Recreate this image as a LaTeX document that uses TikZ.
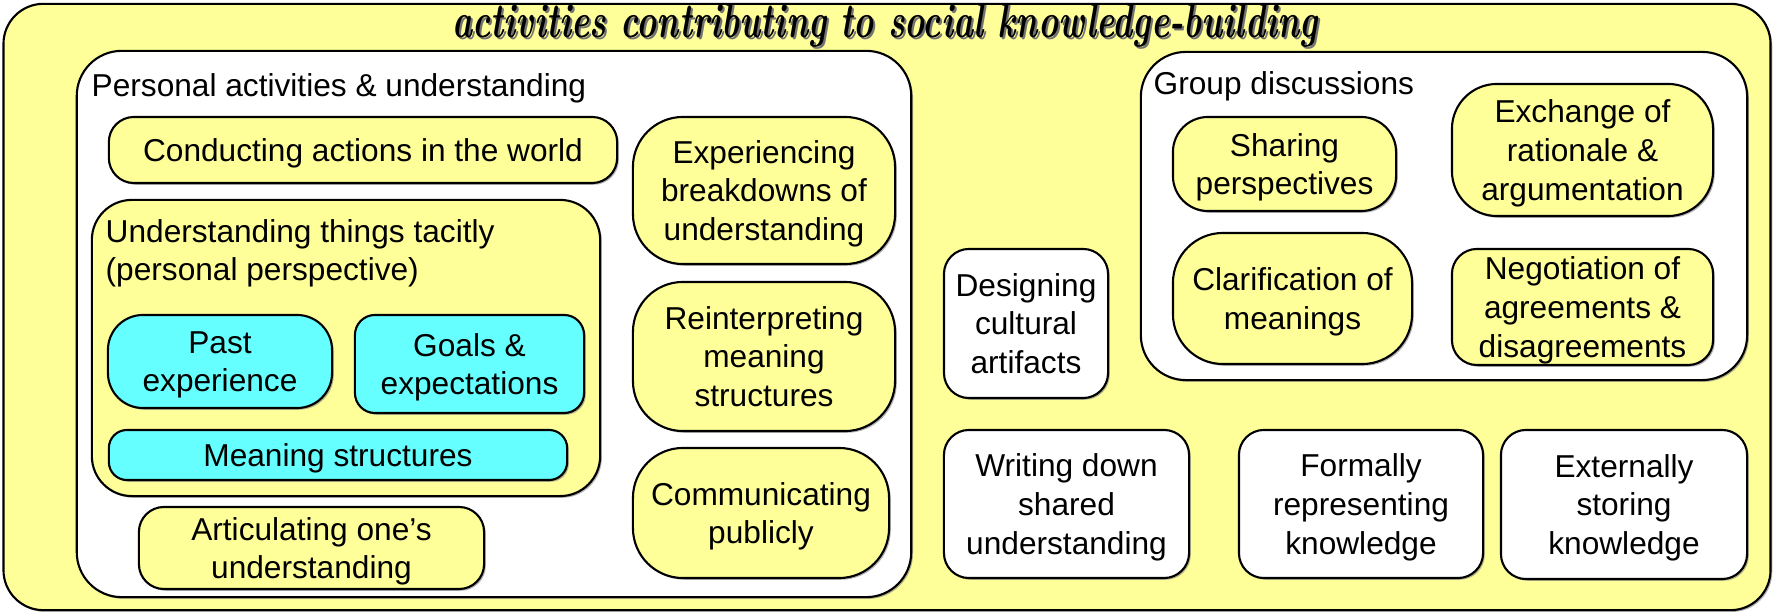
\documentclass[tikz,border=0pt]{standalone}
\usepackage{fontspec}
\setsansfont{Liberation Sans}
\usetikzlibrary{shadows}

\definecolor{paleyellow}{HTML}{FFFF99}
\definecolor{palecyan}{HTML}{66FFFF}

\newcommand{\titletext}{\resizebox{8.65cm}{0.34cm}{\bfseries\itshape activities contributing to social knowledge-building}}

\begin{document}
\begin{tikzpicture}[x=0.01cm, y=-0.01cm]

        % Define box styles
        \tikzstyle{box} = [draw, line width=0.6pt, inner sep=0pt, align=center, rounded corners=0.25cm, font=\sffamily\fontsize{9}{11}\selectfont, text depth=-0.3pt, drop shadow={shadow xshift=0.5pt, shadow yshift=-0.5pt, opacity=0.6}]
        \tikzstyle{yellowbox} = [box, fill=paleyellow]
        \tikzstyle{whitebox} = [box, fill=white]
        \tikzstyle{cyanbox} = [box, fill=palecyan]
        \tikzstyle{heading} = [anchor=base west, inner sep=0pt, font=\sffamily\fontsize{9}{11}\selectfont]

        \useasboundingbox (0,0) rectangle (1773,613);

        % Outer frame and title
        \node[yellowbox, rounded corners=0.4cm, minimum width=17.66cm, minimum height=6.06cm] (outer) at (887,307) {};
        \node[anchor=base, inner sep=0pt, text=black!55] (titleshadow) at (887,40) {\titletext};
        \node[anchor=base, inner sep=0pt] (title) at (885,38) {\titletext};

        % Personal activities
        \node[whitebox, rounded corners=0.45cm, minimum width=8.34cm, minimum height=5.46cm] (personal) at (494,324) {};
        \node[heading] (personaltitle) at (91,97) {Personal activities \& understanding};
        \node[yellowbox, minimum width=5.08cm, minimum height=0.66cm] (conducting) at (363,150) {Conducting actions in the world};

        % Tacit understanding
        \node[yellowbox, rounded corners=0.4cm, minimum width=5.08cm, minimum height=2.96cm] (tacit) at (346,348) {};
        \node[heading] (tacittitle) at (105,243) {Understanding things tacitly};
        \node[heading] (tacitsub) at (105,281) {(personal perspective)};
        \node[cyanbox, rounded corners=0.35cm, minimum width=2.24cm, minimum height=0.93cm] (past) at (220,361.5) {Past\\experience};
        \node[cyanbox, rounded corners=0.2cm, minimum width=2.29cm, minimum height=0.98cm] (goals) at (469.5,364) {Goals \&\\expectations};
        \node[cyanbox, rounded corners=0.18cm, minimum width=4.58cm, minimum height=0.50cm] (meaningstr) at (338,455) {Meaning structures};

        \node[yellowbox, minimum width=3.45cm, minimum height=0.82cm] (articulating) at (311.5,548) {Articulating one’s\\understanding};

        % Middle column
        \node[yellowbox, rounded corners=0.5cm, minimum width=2.62cm, minimum height=1.47cm] (experiencing) at (764,190.5) {Experiencing\\breakdowns of\\understanding};
        \node[yellowbox, rounded corners=0.5cm, minimum width=2.62cm, minimum height=1.49cm] (reinterpreting) at (764,356.5) {Reinterpreting\\meaning\\structures};
        \node[yellowbox, rounded corners=0.5cm, minimum width=2.56cm, minimum height=1.30cm] (communicating) at (761,513) {Communicating\\publicly};

        % Artifacts
        \node[whitebox, minimum width=1.64cm, minimum height=1.49cm] (designing) at (1026,323.5) {Designing\\cultural\\artifacts};
        \node[whitebox, minimum width=2.45cm, minimum height=1.48cm] (writing) at (1066.5,504) {Writing down\\shared\\understanding};
        \node[whitebox, minimum width=2.44cm, minimum height=1.48cm] (formally) at (1361,504) {Formally\\representing\\knowledge};
        \node[whitebox, minimum width=2.46cm, minimum height=1.49cm] (externally) at (1624,504.5) {Externally\\storing\\knowledge};

        % Group discussions
        \node[whitebox, rounded corners=0.45cm, minimum width=6.06cm, minimum height=3.28cm] (group) at (1444,216) {};
        \node[heading] (grouptitle) at (1153,95) {Group discussions};
        \node[yellowbox, rounded corners=0.35cm, minimum width=2.23cm, minimum height=0.94cm] (sharing) at (1284.5,164) {Sharing\\perspectives};
        \node[yellowbox, rounded corners=0.45cm, minimum width=2.61cm, minimum height=1.32cm] (exchange) at (1582.5,150) {Exchange of\\rationale \&\\argumentation};
        \node[yellowbox, rounded corners=0.5cm, minimum width=2.39cm, minimum height=1.31cm] (clarification) at (1292.5,298.5) {Clarification of\\meanings};
        \node[yellowbox, minimum width=2.61cm, minimum height=1.16cm] (negotiation) at (1582.5,307) {Negotiation of\\agreements \&\\disagreements};

\end{tikzpicture}
\end{document}
